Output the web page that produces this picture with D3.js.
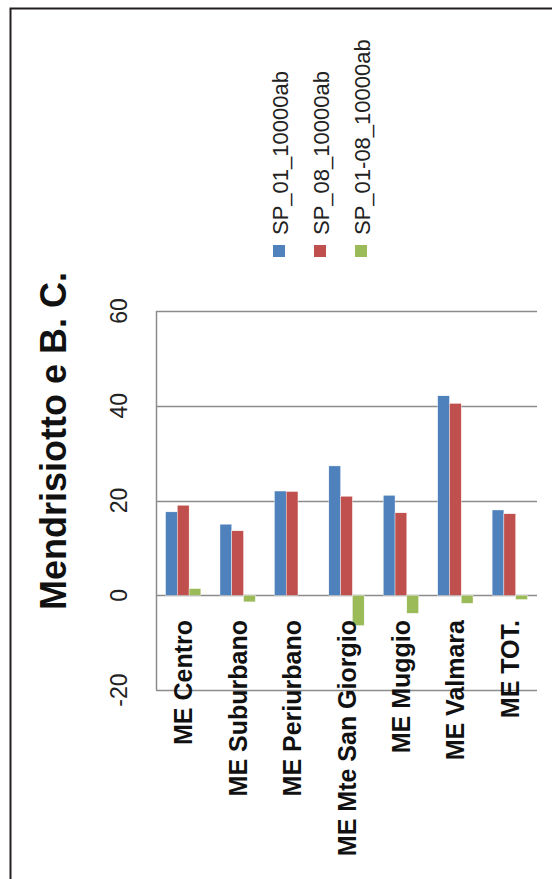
<!DOCTYPE html>
<html><head><meta charset="utf-8">
<script src="https://cdn.jsdelivr.net/npm/d3@7"></script>
<style>body{margin:0;background:#fff}svg{display:block}text{font-family:"Liberation Sans",Arial,sans-serif}</style>
</head><body>
<svg id="c" width="552" height="879"></svg>
<script>
const title = "Mendrisiotto e B. C.";
const categories = ["ME Centro","ME Suburbano","ME Periurbano","ME Mte San Giorgio","ME Muggio","ME Valmara","ME TOT."];
const seriesNames = ["SP_01_10000ab","SP_08_10000ab","SP_01-08_10000ab"];
const sp01 = [17.6, 15.0, 22.0, 27.3, 21.1, 42.1, 18.0];
const sp08 = [19.0, 13.6, 21.9, 20.9, 17.4, 40.5, 17.2];
const sp0108 = [1.4, -1.4, 0.0, -6.4, -3.8, -1.7, -0.9];
const tickValues = [-20, 0, 20, 40, 60];
const colors = ["#4F81BD","#C0504D","#9BBB59"];

const series = [sp01, sp08, sp0108];
const svg = d3.select("#c");

// outer frame
svg.append("path").attr("d","M10.5,879 V8.5 H552").attr("fill","none").attr("stroke","#231f20").attr("stroke-width",2);

const L = 156, R = 537, T = 311, B = 690;
const x = d3.scaleBand().domain(categories).range([L, R]).paddingInner(0.351).paddingOuter(0.1755);
const xs = d3.scaleBand().domain(d3.range(series.length)).range([0, x.bandwidth()]);
const y = d3.scaleLinear().domain([-20, 60]).range([B, T]);

// gridlines
svg.append("g").selectAll("line").data(tickValues).join("line")
  .attr("x1", L).attr("x2", R).attr("y1", d => Math.round(y(d)) + 0.5).attr("y2", d => Math.round(y(d)) + 0.5)
  .attr("stroke", "#8c8c8c").attr("stroke-width", 1.5);
// value axis line
svg.append("line").attr("x1", L + 0.5).attr("x2", L + 0.5).attr("y1", y(60)).attr("y2", y(-20))
  .attr("stroke", "#8c8c8c").attr("stroke-width", 1.5);

// bars
const g = svg.append("g");
series.forEach((vals, si) => {
  g.selectAll(null).data(vals).join("rect")
    .attr("x", (d, i) => x(categories[i]) + xs(si))
    .attr("width", xs.bandwidth())
    .attr("y", d => y(Math.max(0, d)))
    .attr("height", d => Math.abs(y(d) - y(0)))
    .attr("fill", colors[si])
    .attr("stroke", "#ffffff").attr("stroke-width", 0.4);
});

// tick labels (rotated)
svg.append("g").selectAll("text").data(tickValues).join("text")
  .attr("transform", d => `translate(119,${y(d)}) rotate(-90)`)
  .attr("text-anchor", "middle").attr("dy", "0.35em")
  .attr("font-size", 23).attr("fill", "#222")
  .text(d => d);

// category labels
svg.append("g").selectAll("text").data(categories).join("text")
  .attr("transform", d => `translate(${x(d) + x.bandwidth()/2},620) rotate(-90)`)
  .attr("text-anchor", "end").attr("dy", "0.36em")
  .attr("font-size", 25).attr("font-weight", "bold").attr("fill", "#111")
  .text(d => d);

// title
svg.append("text").attr("transform", "translate(53,441) rotate(-90)")
  .attr("text-anchor", "middle").attr("dy", "0.36em")
  .attr("font-size", 36).attr("font-weight", "bold").attr("fill", "#111")
  .text(title);

// legend
const lx = [279, 320, 361];
const lg = svg.append("g");
lg.selectAll("rect").data(seriesNames).join("rect")
  .attr("x", (d, i) => lx[i] - 6).attr("y", 245).attr("width", 12).attr("height", 12)
  .attr("fill", (d, i) => colors[i]);
lg.selectAll("text").data(seriesNames).join("text")
  .attr("transform", (d, i) => `translate(${lx[i] + 1},235) rotate(-90)`)
  .attr("text-anchor", "start").attr("dy", "0.35em")
  .attr("font-size", 22).attr("fill", "#222")
  .text(d => d);
</script>
</body></html>
